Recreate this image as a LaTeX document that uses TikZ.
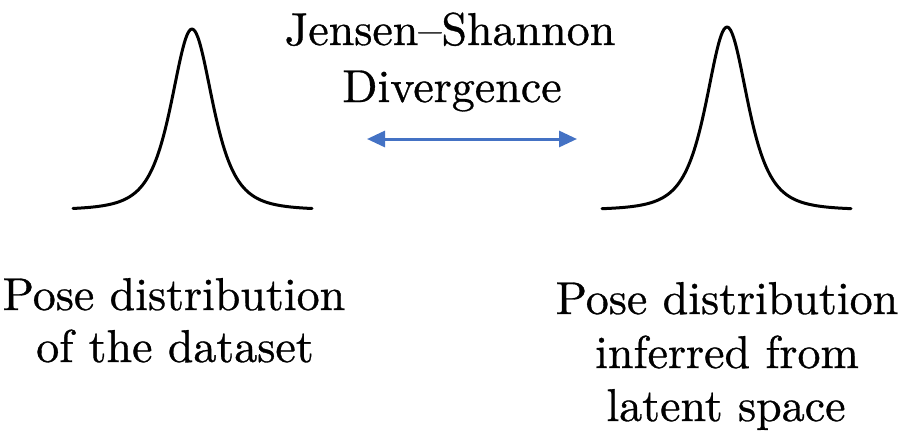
\documentclass[tikz,border=0pt]{standalone}
\usepackage{fontspec}
\newfontfamily\labelserif{lmroman10-regular}[Extension=.otf,FakeBold=0.7]
\usetikzlibrary{arrows.meta}
\definecolor{arrowblue}{HTML}{4472C4}
\tikzset{
  lbl/.style={anchor=base, inner sep=0pt, font=\labelserif\fontsize{46}{52}\selectfont},
  curve/.style={line width=3pt, black, line cap=round, line join=round},
  jsarrow/.style={line width=3pt, arrowblue, {Triangle[length=18pt,width=16pt]}-{Triangle[length=18pt,width=16pt]}}
}
\begin{document}
\begin{tikzpicture}[x=1pt,y=-1pt]
\useasboundingbox (0,0) rectangle (909,447);
% peak curves
\draw[curve] plot[domain=-119:120, samples=160, smooth] ({192+\x},{210-181/((1+(\x/38)^2)^2)});
\draw[curve] plot[domain=-125:124, samples=160, smooth] ({727+\x},{210-183/((1+(\x/38)^2)^2)});
% labels
\node[lbl] (js1) at (450,45) {Jensen–Shannon};
\node[lbl] (js2) at (452,102) {Divergence};
\node[lbl] (l1) at (174,310) {Pose distribution};
\node[lbl] (l2) at (175,362) {of the dataset};
\node[lbl] (r1) at (727,314) {Pose distribution};
\node[lbl] (r2) at (727,368) {inferred from};
\node[lbl] (r3) at (726,421) {latent space};
% arrow
\coordinate (al) at (367,139);
\coordinate (ar) at (577,139);
\draw[jsarrow] (al) -- (ar);
\end{tikzpicture}
\end{document}
